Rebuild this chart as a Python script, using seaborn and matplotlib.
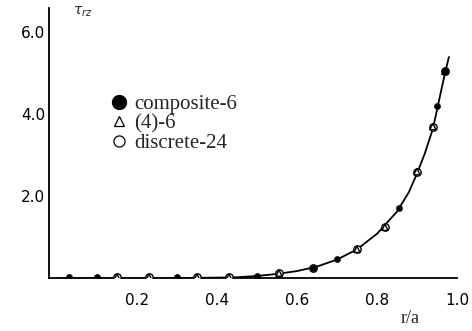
import numpy as np
import pandas as pd
import matplotlib
matplotlib.use("Agg")
import matplotlib.pyplot as plt
import seaborn as sns
from matplotlib.ticker import MultipleLocator, FormatStrFormatter
from matplotlib.lines import Line2D

# solid curve
curve_x = [0.0, 0.1, 0.2, 0.3, 0.4, 0.45, 0.5, 0.55, 0.6, 0.65, 0.7, 0.75,
           0.8, 0.85, 0.88, 0.9, 0.92, 0.94, 0.95, 0.96, 0.97, 0.98]
curve_y = [0.0, 0.0, 0.0, 0.0, 0.01, 0.02, 0.05, 0.1, 0.17, 0.28, 0.45, 0.7,
           1.08, 1.62, 2.1, 2.55, 3.05, 3.65, 4.1, 4.55, 5.0, 5.4]

# composite-6 (filled circles)
comp_x = [0.03, 0.10, 0.30, 0.50, 0.64, 0.70, 0.855, 0.95, 0.97]
comp_y = [0.02, 0.02, 0.02, 0.05, 0.24, 0.46, 1.70, 4.20, 5.05]

# (4)-6 (open triangles)
tri_x = [0.15, 0.23, 0.35, 0.43, 0.555, 0.75, 0.82, 0.90, 0.94, 0.97]
tri_y = [0.02, 0.02, 0.02, 0.02, 0.12, 0.70, 1.24, 2.60, 3.70, 5.05]

# discrete-24 (open circles)
disc_x = [0.15, 0.23, 0.35, 0.43, 0.555, 0.64, 0.75, 0.82, 0.90, 0.94, 0.97]
disc_y = [0.02, 0.02, 0.02, 0.02, 0.12, 0.24, 0.70, 1.24, 2.60, 3.70, 5.05]

legend_labels = ["composite-6", "(4)-6", "discrete-24"]

sns.set_style("white")
plt.rcParams['font.family'] = ['DejaVu Sans']

fig = plt.figure(figsize=(4.72, 3.31), dpi=100)
ax = fig.add_axes([0.104, 0.160, 0.864, 0.816])

sns.lineplot(x=curve_x, y=curve_y, ax=ax, color="black", linewidth=1.3, sort=True)
sns.scatterplot(x=disc_x, y=disc_y, ax=ax, marker="o", s=28, facecolor="white",
                edgecolor="black", linewidth=1.0, zorder=3)
sns.scatterplot(x=tri_x, y=tri_y, ax=ax, marker="^", s=20, facecolor="none",
                edgecolor="black", linewidth=1.0, zorder=4)
sns.scatterplot(x=comp_x, y=comp_y, ax=ax, marker="o", s=20, color="black",
                edgecolor="black", zorder=5)

ax.set_xlim(-0.02, 1.0)
ax.set_ylim(0, 6.6)
ax.xaxis.set_major_locator(MultipleLocator(0.2))
ax.xaxis.set_minor_locator(MultipleLocator(0.1))
ax.yaxis.set_major_locator(MultipleLocator(2.0))
ax.yaxis.set_minor_locator(MultipleLocator(1.0))
ax.xaxis.set_major_formatter(FormatStrFormatter("%.1f"))
ax.yaxis.set_major_formatter(FormatStrFormatter("%.1f"))
ax.set_xticks([0.2, 0.4, 0.6, 0.8, 1.0])
ax.set_yticks([2.0, 4.0, 6.0])
ax.tick_params(axis="both", which="both", direction="in", color="black",
               width=1.0, labelsize=11, labelcolor="black")
ax.tick_params(axis="x", which="both", length=5, pad=11)
ax.tick_params(axis="y", which="both", length=7, pad=3)

for s in ["top", "right"]:
    ax.spines[s].set_visible(False)
for s in ["left", "bottom"]:
    ax.spines[s].set_color("black")
    ax.spines[s].set_linewidth(1.3)

ax.set_xlabel("")
ax.set_ylabel("")
fig.text(0.155, 0.965, r"$\tau_{rz}$", fontsize=10, ha="left", va="center",
         family="Liberation Serif")
fig.text(0.87, 0.037, "r/a", fontsize=13, ha="center", va="center",
         family="Liberation Serif")

handles = [
    Line2D([], [], marker="o", linestyle="none", markersize=10,
           markerfacecolor="black", markeredgecolor="black"),
    Line2D([], [], marker="^", linestyle="none", markersize=7.5,
           markerfacecolor="white", markeredgecolor="black", markeredgewidth=0.9),
    Line2D([], [], marker="o", linestyle="none", markersize=8,
           markerfacecolor="white", markeredgecolor="black", markeredgewidth=0.9),
]
leg = ax.legend(handles, legend_labels, loc="upper left",
                bbox_to_anchor=(0.128, 0.71), frameon=False,
                prop={"family": "Liberation Serif", "size": 15},
                handletextpad=0.3, labelspacing=0.0, handlelength=0.9,
                borderaxespad=0)

fig.savefig("out.png", dpi=100)
